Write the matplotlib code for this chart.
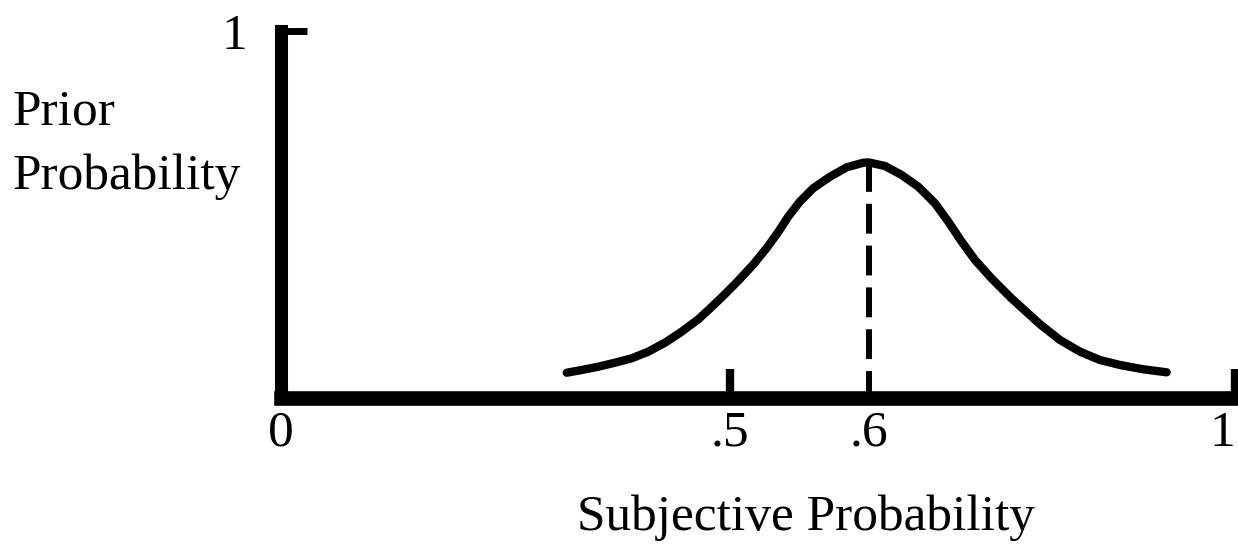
import matplotlib
matplotlib.use("Agg")
import matplotlib.pyplot as plt

# curve (x and y in axis units, 0..1)
curve_x = [0.2995, 0.3152, 0.3326, 0.3501, 0.3676, 0.3850, 0.4025, 0.4200, 0.4374,
           0.4497, 0.4623, 0.4777, 0.4951, 0.5091, 0.5213, 0.5318, 0.5440, 0.5580,
           0.5755, 0.5930, 0.6104, 0.6164, 0.6331, 0.6506, 0.6680, 0.6855, 0.6995,
           0.7135, 0.7275, 0.7450, 0.7659, 0.7956, 0.8166, 0.8375, 0.8585, 0.8795,
           0.9039, 0.9284]
curve_y = [0.0689, 0.0763, 0.0853, 0.0962, 0.1082, 0.1262, 0.1507, 0.1807, 0.2144,
           0.2439, 0.2752, 0.3152, 0.3639, 0.4087, 0.4526, 0.4946, 0.5355, 0.5719,
           0.6030, 0.6286, 0.6411, 0.6417, 0.6322, 0.6076, 0.5757, 0.5305, 0.4804,
           0.4259, 0.3760, 0.3253, 0.2710, 0.2010, 0.1580, 0.1262, 0.1035, 0.0899,
           0.0782, 0.0700]

# the tick marks are hand placed in the drawing, not to scale
xtick_pos = [0, 0.471, 0.6164, 1.0]
xtick_labels = ["0", ".5", ".6", "1"]
ytick_pos = [1.0]
ytick_labels = ["1"]

mode_x = 0.6164
mode_y = 0.6417

FONT = "Liberation Serif"
FS = 37

fig = plt.figure(figsize = (12.38, 5.5), dpi = 100)
ax = fig.add_axes([281 / 1238, 152 / 550, 954 / 1238, 367 / 550])

ax.plot([mode_x, mode_x], [mode_y, 0], color = "black", lw = 4.3,
        linestyle = (0, (5.0, 2.0)), zorder = 2, clip_on = False)
ax.plot(curve_x, curve_y, color = "black", lw = 6, solid_capstyle = "round",
        solid_joinstyle = "round", zorder = 3, clip_on = False)

ax.set_xlim(0, 1)
ax.set_ylim(0, 1)

for side in ["top", "right"]:
    ax.spines[side].set_visible(False)
ax.spines["left"].set_linewidth(9.4)
ax.spines["bottom"].set_linewidth(10.5)
for side in ["left", "bottom"]:
    ax.spines[side].set_capstyle("projecting")

ax.set_xticks(xtick_pos)
ax.set_xticklabels(xtick_labels, family = FONT, fontsize = FS)
ax.set_yticks(ytick_pos)
ax.set_yticklabels(ytick_labels, family = FONT, fontsize = FS)
ax.tick_params(axis = "x", direction = "in", length = 21, width = 6, pad = 9)
ax.tick_params(axis = "y", direction = "in", length = 19, width = 5, pad = 24)

xt = ax.xaxis.get_major_ticks()
xt[0].tick1line.set_visible(False)
xt[2].tick1line.set_visible(False)
ax.get_xticklabels()[-1].set_horizontalalignment("right")

fig.text(13 / 1238, 1 - 89 / 550, "Prior\nProbability", family = FONT, fontsize = FS,
         ha = "left", va = "top", linespacing = 1.5)
fig.text(806 / 1238, 20 / 550, "Subjective Probability", family = FONT, fontsize = FS,
         ha = "center", va = "baseline")

fig.savefig("out.png", dpi = 100)
